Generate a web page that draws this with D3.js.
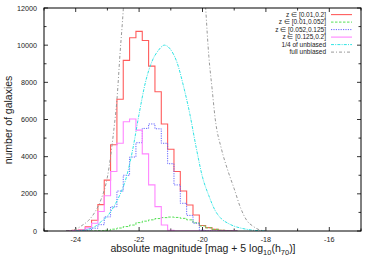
<!DOCTYPE html>
<html><head><meta charset="utf-8">
<script src="https://cdn.jsdelivr.net/npm/d3@7"></script>
<style>
html,body{margin:0;padding:0;background:#fff;}
svg text{font-family:"Liberation Sans",Arial,Helvetica,sans-serif;fill:#222;}
</style></head>
<body>
<svg id="c" width="374" height="262"></svg>
<script>
// ---- data ----
const binCenters = [-24.2,-24.0,-23.8,-23.6,-23.4,-23.2,-23.0,-22.8,-22.6,-22.4,-22.2,-22.0,-21.8,-21.6,-21.4,-21.2,-21.0,-20.8,-20.6,-20.4,-20.2,-20.0,-19.8,-19.6,-19.4,-19.2,-19.0];
const zAll   = [0,40,60,230,580,1420,2740,4640,7090,9180,10400,10740,10250,8870,7490,5760,4400,3200,2150,1400,860,300,180,90,40,10,0];
const zLow   = [0,0,0,0,0,10,40,100,160,240,320,450,530,600,670,720,750,730,680,600,440,270,170,90,40,10,0];
const zMid   = [0,0,10,50,150,340,760,1300,2150,3000,3980,4750,5520,5760,5500,4720,3620,2480,1490,840,420,40,10,0,0,0,0];
const zHigh  = [0,20,50,170,420,1050,1900,3200,4720,5880,6030,5430,4150,2480,1310,320,40,0,0,0,0,0,0,0,0,0,0];
const curveMag = [-24.0,-23.8,-23.6,-23.4,-23.2,-23.0,-22.8,-22.6,-22.4,-22.2,-22.0,-21.8,-21.6,-21.4,-21.2,-21.0,-20.8,-20.6,-20.4,-20.2,-20.0,-19.8,-19.6,-19.4,-19.2,-19.0,-18.8,-18.6,-18.4,-18.2,-18.0];
const quarterUnbiased = [0,30,100,230,500,800,1300,1970,2900,4400,6300,8000,9100,9700,10000,9750,9050,7800,6300,4500,2900,1900,1100,650,420,260,160,90,40,15,0];
const fullMag = [-24.3,-24.0,-23.8,-23.6,-23.4,-23.2,-23.0,-22.8,-22.7,-22.6,-22.5,-22.4,-21.2,-20.0,-19.9,-19.8,-19.7,-19.6,-19.4,-19.2,-19.0,-18.8,-18.6,-18.4,-18.2,-18.0];
const fullUnbiased = [0,90,300,560,1000,1700,2900,5400,7050,9580,11900,15000,40000,15000,12000,9400,7700,6050,4400,3250,2270,1250,560,250,60,0];
const xTicks = [-24,-22,-20,-18,-16];
const yTicks = [0,2000,4000,6000,8000,10000,12000];
const legendLabels = ["z \u2208 [0.01,0.2]","z \u2208 [0.01,0.052]","z \u2208 [0.052,0.125]","z \u2208 [0.125,0.2]","1/4 of unbiased","full unbiased"];

// ---- layout ----
const L=44,R=361,T=8,B=231;
const svg=d3.select("#c");
const x=d3.scaleLinear().domain([-25,-15]).range([L,R]);
const y=d3.scaleLinear().domain([0,12000]).range([B,T]);

svg.append("defs").append("clipPath").attr("id","clip")
  .append("rect").attr("x",L).attr("y",T).attr("width",R-L).attr("height",B-T);

// ticks
const g=svg.append("g").attr("stroke","#000").attr("stroke-width",0.8);
d3.range(-25,-14,1).forEach(v=>{
  const len = (v%2===0)?4:2.5;
  g.append("line").attr("x1",x(v)).attr("x2",x(v)).attr("y1",B).attr("y2",B-len);
  g.append("line").attr("x1",x(v)).attr("x2",x(v)).attr("y1",T).attr("y2",T+len);
});
d3.range(0,12001,1000).forEach(v=>{
  const len = (v%2000===0)?4:2.5;
  g.append("line").attr("y1",y(v)).attr("y2",y(v)).attr("x1",L).attr("x2",L+len);
  g.append("line").attr("y1",y(v)).attr("y2",y(v)).attr("x1",R).attr("x2",R-len);
});

// tick labels
svg.append("g").selectAll("text").data(yTicks).join("text")
  .attr("x",L-7).attr("y",d=>y(d)+2.6).attr("text-anchor","end")
  .attr("font-size",7.2).text(d=>d);
svg.append("g").selectAll("text").data(xTicks).join("text")
  .attr("x",d=>x(d)).attr("y",B+10.5).attr("text-anchor","middle")
  .attr("font-size",7.2).text(d=>"-"+Math.abs(d));

// axis titles
const xl=svg.append("text").attr("x",203).attr("y",252).attr("text-anchor","middle").attr("font-size",10.5);
xl.append("tspan").text("absolute magnitude [mag + 5 log");
xl.append("tspan").attr("font-size",7.5).attr("dy",2.5).text("10");
xl.append("tspan").attr("dy",-2.5).text("(h");
xl.append("tspan").attr("font-size",7.5).attr("dy",2.5).text("70");
xl.append("tspan").attr("dy",-2.5).text(")]");
svg.append("text").attr("transform","translate(12,120) rotate(-90)")
  .attr("text-anchor","middle").attr("font-size",10.5).text("number of galaxies");

// series
const plot=svg.append("g").attr("clip-path","url(#clip)").attr("fill","none");
const stepLine=d3.line().x(d=>x(d[0])).y(d=>y(d[1])).curve(d3.curveStepAfter);
function steps(vals){
  const pts=binCenters.map((c,i)=>[c-0.1,vals[i]]);
  pts.push([binCenters[binCenters.length-1]+0.1,vals[vals.length-1]]);
  return pts;
}
const styles=[
  {c:"#ff5c5c",w:1.1,d:null},
  {c:"#55e055",w:1,d:"2.5,1.5"},
  {c:"#6464ff",w:1,d:"1.2,1.2"},
  {c:"#ff85ff",w:1.1,d:null},
  {c:"#30e4e4",w:1,d:"3,1.2,1,1.2"},
  {c:"#999999",w:1,d:"3,2,1,2"}
];
[zAll,zLow,zMid,zHigh].forEach((vals,i)=>{
  plot.append("path").attr("d",stepLine(steps(vals)))
    .attr("stroke",styles[i].c).attr("stroke-width",styles[i].w)
    .attr("stroke-dasharray",styles[i].d);
});
const smooth=d3.line().x(d=>x(d[0])).y(d=>y(d[1])).curve(d3.curveMonotoneX);
plot.append("path").attr("d",smooth(curveMag.map((m,i)=>[m,quarterUnbiased[i]])))
  .attr("stroke",styles[4].c).attr("stroke-width",styles[4].w).attr("stroke-dasharray",styles[4].d);
plot.append("path").attr("d",smooth(fullMag.map((m,i)=>[m,fullUnbiased[i]])))
  .attr("stroke",styles[5].c).attr("stroke-width",styles[5].w).attr("stroke-dasharray",styles[5].d);

// legend
const lg=svg.append("g");
legendLabels.forEach((t,i)=>{
  const yy=14.6+i*7.5;
  lg.append("text").attr("x",326).attr("y",yy+2.3).attr("text-anchor","end").attr("font-size",6.5).text(t);
  lg.append("line").attr("x1",331).attr("x2",352).attr("y1",yy).attr("y2",yy)
    .attr("stroke",styles[i].c).attr("stroke-width",styles[i].w).attr("stroke-dasharray",styles[i].d);
});

// frame
svg.append("rect").attr("x",L).attr("y",T).attr("width",R-L).attr("height",B-T)
  .attr("fill","none").attr("stroke","#000").attr("stroke-width",1);
</script>
</body></html>
